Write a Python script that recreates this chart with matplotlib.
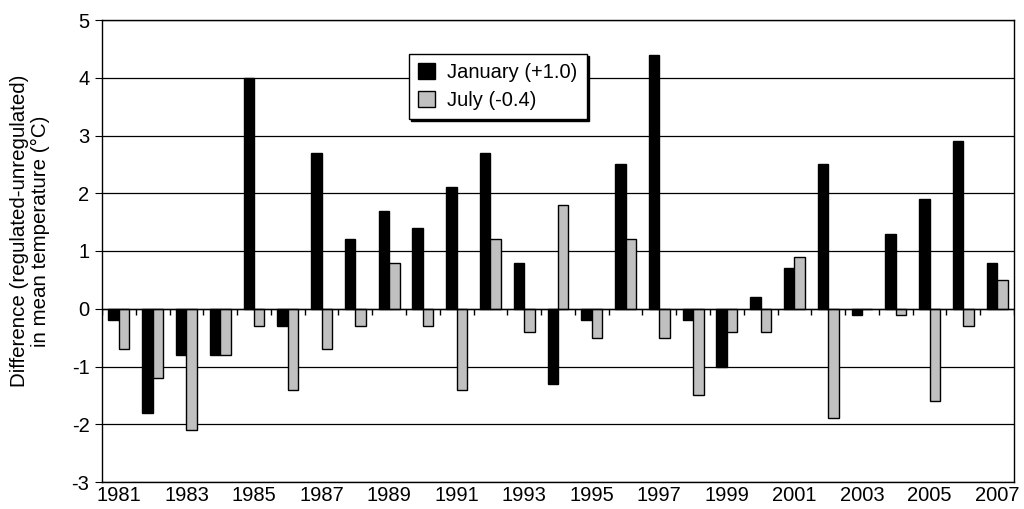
import numpy as np
import matplotlib
matplotlib.use('Agg')
import matplotlib.pyplot as plt

plt.rcParams['font.family'] = ['Liberation Sans', 'DejaVu Sans']
plt.rcParams['axes.unicode_minus'] = False

years = list(range(1981, 2008))
january = [-0.2, -1.8, -0.8, -0.8, 4.0, -0.3, 2.7, 1.2, 1.7, 1.4, 2.1, 2.7, 0.8, -1.3,
           -0.2, 2.5, 4.4, -0.2, -1.0, 0.2, 0.7, 2.5, -0.1, 1.3, 1.9, 2.9, 0.8]
july = [-0.7, -1.2, -2.1, -0.8, -0.3, -1.4, -0.7, -0.3, 0.8, -0.3, -1.4, 1.2, -0.4, 1.8,
        -0.5, 1.2, -0.5, -1.5, -0.4, -0.4, 0.9, -1.9, 0.0, -0.1, -1.6, -0.3, 0.5]
labels = ['January (+1.0)', 'July (-0.4)']

fig = plt.figure(figsize=(10.24, 5.09), dpi=100)
ax = fig.add_axes([102/1024, 1 - 482/509, (1014-102)/1024, (482-20)/509])

x = np.arange(len(years))
w = 0.31
ax.set_axisbelow(True)
ax.yaxis.grid(True, color='black', linewidth=0.9)
ax.bar(x - w/2, january, w, color='black', edgecolor='black', linewidth=1, label=labels[0], zorder=3)
ax.bar(x + w/2, july, w, color='#c0c0c0', edgecolor='black', linewidth=1, label=labels[1], zorder=3)

# zero axis line with category tick marks
ax.axhline(0, color='black', linewidth=1, zorder=4)
ax.vlines(np.arange(-0.5, len(years)), -0.1, 0, color='black', linewidth=1, zorder=4)

ax.set_xlim(-0.5, len(years) - 0.5)
ax.set_ylim(-3, 5)
ax.set_yticks(range(-3, 6))
ax.set_xticks(x[::2])
ax.set_xticklabels([str(y) for y in years[::2]])
ax.tick_params(axis='x', length=0, pad=3, labelsize=14.5)
ax.tick_params(axis='y', length=5, direction='out', labelsize=14.5, pad=4)
for s in ax.spines.values():
    s.set_linewidth(1)

ax.set_ylabel('Difference (regulated-unregulated)\nin mean temperature (\u00b0C)', fontsize=14.8,
              linespacing=1.1)
ax.yaxis.set_label_coords(-0.057, 0.543)

leg = ax.legend(loc='upper left', bbox_to_anchor=((409-102)/912, (482-54)/462), fontsize=14.5,
                frameon=True, fancybox=False, shadow={'color': 'black', 'alpha': 1, 'ox': 1.5, 'oy': -1.5},
                edgecolor='black', borderpad=0.45, labelspacing=0.45, handlelength=0.85,
                handleheight=0.85, handletextpad=0.6, borderaxespad=0)
leg.get_frame().set_linewidth(1)

plt.savefig('out.png', dpi=100)
